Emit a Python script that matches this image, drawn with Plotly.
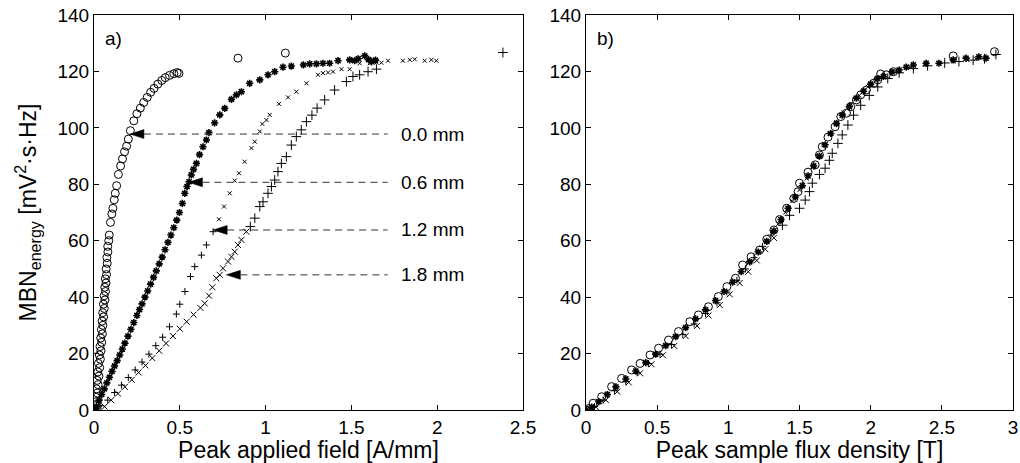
import plotly.graph_objects as go

# ---- panel a) : MBN energy vs peak applied field ----
h_00 = [0.000, 0.006, 0.016, 0.012, 0.020, 0.014, 0.024, 0.018, 0.029, 0.022, 0.033, 0.026,
        0.037, 0.031, 0.041, 0.035, 0.045, 0.039, 0.049, 0.043, 0.052, 0.047, 0.056, 0.051,
        0.060, 0.055, 0.064, 0.059, 0.067, 0.063, 0.070, 0.066, 0.073, 0.071, 0.077, 0.075,
        0.081, 0.080, 0.086, 0.089, 0.096, 0.104, 0.110, 0.118, 0.124, 0.132, 0.142, 0.155,
        0.166, 0.178, 0.190, 0.200, 0.212, 0.232, 0.250, 0.270, 0.290, 0.310, 0.330, 0.350,
        0.372, 0.395, 0.415, 0.440, 0.465, 0.485, 0.495, 0.839, 1.115]
m_00 = [0.0, 1.5, 3.0, 4.5, 6.0, 7.5, 9.0, 10.5, 12.0, 13.5, 15.0, 16.5,
        18.0, 19.5, 21.0, 22.5, 24.0, 25.5, 27.0, 28.5, 30.0, 31.5, 33.0, 34.5,
        36.0, 37.5, 39.0, 40.5, 42.0, 43.5, 45.0, 46.5, 48.0, 50.0, 52.0, 54.0,
        56.0, 58.0, 60.0, 62.0, 66.5, 69.5, 71.5, 74.5, 76.8, 79.5, 83.5, 86.5,
        89.0, 91.5, 93.5, 96.0, 99.0, 102.5, 105.0, 107.0, 109.0, 110.8, 112.6, 114.0,
        115.5, 116.8, 117.8, 118.6, 119.2, 119.6, 119.3, 124.7, 126.5]

h_06 = [0.000, 0.014, 0.030, 0.045, 0.060, 0.075, 0.090, 0.105, 0.120, 0.135, 0.150, 0.165,
        0.180, 0.198, 0.215, 0.232, 0.250, 0.265, 0.280, 0.297, 0.313, 0.330, 0.347, 0.363,
        0.380, 0.397, 0.414, 0.431, 0.448, 0.465, 0.482, 0.498, 0.515, 0.529, 0.542, 0.554,
        0.567, 0.580, 0.597, 0.615, 0.635, 0.655, 0.670, 0.703, 0.733, 0.762, 0.801, 0.830,
        0.859, 0.907, 0.966, 1.014, 1.053, 1.101, 1.150, 1.220, 1.257, 1.296, 1.334, 1.373,
        1.422, 1.490, 1.519, 1.540, 1.578, 1.600, 1.617, 1.640]
m_06 = [0.0, 1.2, 3.5, 5.5, 7.5, 9.6, 11.6, 13.7, 15.6, 17.5, 19.5, 21.6,
        23.7, 26.2, 28.6, 31.0, 33.5, 35.6, 37.6, 40.0, 42.2, 44.6, 47.0, 49.3,
        51.8, 54.2, 56.8, 59.4, 62.0, 64.6, 67.3, 70.0, 73.2, 76.8, 79.2, 80.9,
        83.3, 85.3, 87.4, 90.5, 93.3, 95.7, 98.3, 101.8, 104.6, 106.9, 110.1, 111.7,
        112.8, 115.8, 117.0, 118.8, 119.9, 121.5, 121.9, 122.3, 122.7, 122.7, 122.9, 122.9,
        123.8, 124.1, 123.8, 124.5, 125.5, 124.2, 123.5, 124.0]

h_12 = [0.000, 0.040, 0.080, 0.120, 0.160, 0.200, 0.240, 0.280, 0.320, 0.360, 0.400, 0.440,
        0.480, 0.500, 0.530, 0.562, 0.587, 0.626, 0.655, 0.694, 0.728, 0.758, 0.791, 0.820,
        0.845, 0.878, 0.917, 0.937, 0.966, 0.981, 1.005, 1.024, 1.078, 1.131, 1.179, 1.238,
        1.305, 1.334, 1.364, 1.393, 1.442, 1.490, 1.548, 1.607, 1.646, 1.675, 1.713, 1.800,
        1.840, 1.869, 1.927, 1.966, 1.995]
m_12 = [0.0, 1.5, 3.5, 6.2, 8.8, 11.5, 14.2, 17.0, 19.8, 22.8, 25.8, 29.5,
        34.0, 37.5, 42.0, 47.3, 50.8, 54.9, 58.5, 63.2, 67.6, 72.1, 76.8, 81.3,
        83.9, 88.0, 92.8, 95.1, 98.7, 101.4, 102.8, 104.6, 108.5, 110.8, 112.8, 115.8,
        118.8, 119.4, 119.6, 119.9, 120.8, 120.8, 122.9, 122.9, 123.1, 123.1, 123.8, 123.8,
        124.1, 124.3, 123.8, 124.1, 123.8]

h_18 = [0.000, 0.030, 0.062, 0.100, 0.140, 0.180, 0.220, 0.260, 0.300, 0.340, 0.380, 0.420,
        0.460, 0.500, 0.540, 0.580, 0.620, 0.645, 0.670, 0.690, 0.713, 0.733, 0.752, 0.781,
        0.801, 0.820, 0.839, 0.859, 0.888, 0.911, 0.937, 0.966, 0.985, 1.014, 1.034, 1.053,
        1.072, 1.092, 1.121, 1.150, 1.179, 1.208, 1.238, 1.270, 1.300, 1.344, 1.402, 1.471,
        1.509, 1.548, 1.597, 1.646, 2.383]
m_18 = [0.0, 0.5, 1.2, 3.5, 5.8, 8.2, 10.7, 13.3, 15.8, 18.4, 21.0, 23.6,
        26.2, 28.8, 31.3, 33.8, 36.2, 37.8, 40.5, 43.5, 46.7, 47.9, 50.2, 52.6,
        54.3, 56.1, 58.5, 60.3, 63.2, 65.0, 68.0, 72.1, 73.8, 76.8, 79.2, 81.5,
        84.5, 87.4, 89.8, 93.9, 96.9, 99.3, 102.2, 104.5, 107.0, 109.9, 113.4, 116.4,
        118.2, 118.8, 119.9, 120.8, 126.7]

# ---- panel b) : MBN energy vs peak sample flux density ----
b_00 = [0.00, 0.02, 0.05, 0.11, 0.18, 0.25, 0.32, 0.38, 0.45, 0.51, 0.58, 0.65, 0.73, 0.79,
        0.86, 0.93, 0.99, 1.05, 1.10, 1.16, 1.22, 1.27, 1.32, 1.36, 1.41, 1.46, 1.49, 1.50,
        1.56, 1.61, 1.64, 1.66, 1.70, 1.75, 1.79, 1.83, 1.86, 1.90, 1.93, 1.97, 2.02, 2.05,
        2.07, 2.11, 2.16, 2.58, 2.87]
e_00 = [0.0, 0.5, 2.4, 4.7, 8.3, 11.2, 14.2, 16.5, 19.5, 21.9, 24.8, 27.8, 31.3, 33.7,
        36.6, 40.2, 43.7, 46.7, 51.4, 54.3, 56.7, 60.5, 63.8, 67.5, 71.5, 75.0, 77.4, 80.4,
        84.3, 86.9, 90.4, 93.3, 96.7, 100.4, 104.0, 105.2, 107.5, 109.9, 111.7, 113.4, 115.8, 117.0,
        119.1, 118.8, 119.9, 125.5, 127.0]

b_06 = [0.00, 0.04, 0.09, 0.15, 0.21, 0.28, 0.35, 0.42, 0.49, 0.56, 0.63, 0.70, 0.77, 0.84,
        0.91, 0.97, 1.03, 1.09, 1.15, 1.21, 1.27, 1.32, 1.37, 1.42, 1.47, 1.52, 1.56, 1.60,
        1.64, 1.68, 1.72, 1.76, 1.80, 1.85, 1.90, 1.95, 2.00, 2.05, 2.09, 2.15, 2.20, 2.25,
        2.30, 2.39, 2.48, 2.58, 2.67, 2.76, 2.81]
e_06 = [0.0, 1.0, 3.0, 5.5, 8.2, 11.0, 13.8, 16.8, 19.8, 22.8, 26.0, 29.2, 32.3, 35.5,
        38.8, 42.0, 45.3, 49.0, 52.5, 56.0, 59.8, 63.5, 67.5, 71.5, 75.5, 79.5, 83.0, 86.5,
        90.0, 94.0, 98.0, 101.5, 104.5, 107.5, 110.5, 113.0, 115.5, 117.5, 118.2, 119.8, 120.5, 121.5,
        122.3, 122.9, 122.9, 124.1, 124.7, 125.2, 124.7]

b_12 = [0.00, 0.06, 0.12, 0.20, 0.28, 0.36, 0.44, 0.52, 0.60, 0.68, 0.76, 0.84, 0.92, 0.99,
        1.06, 1.12, 1.18, 1.24, 1.30, 1.35, 1.40, 1.45, 1.50, 1.55, 1.59, 1.63, 1.67, 1.71,
        1.76, 1.81, 1.86, 1.92, 1.98, 2.04, 2.10, 2.18, 2.28, 2.38, 2.48, 2.58, 2.68, 2.74]
e_12 = [0.0, 1.2, 3.5, 6.8, 10.0, 13.3, 16.5, 19.8, 23.2, 26.8, 30.5, 34.2, 38.0, 41.8,
        46.0, 50.0, 54.0, 58.0, 62.0, 66.0, 70.0, 74.0, 78.0, 82.0, 86.0, 90.0, 94.0, 98.0,
        102.0, 105.5, 108.5, 111.5, 114.5, 116.8, 118.5, 120.0, 121.5, 122.3, 123.0, 123.5, 124.0, 124.5]

b_18 = [0.00, 0.07, 0.14, 0.22, 0.30, 0.38, 0.46, 0.54, 0.62, 0.70, 0.78, 0.86, 0.94, 1.01,
        1.08, 1.14, 1.20, 1.26, 1.32, 1.38, 1.43, 1.50, 1.54, 1.57, 1.59, 1.64, 1.68, 1.71,
        1.73, 1.77, 1.80, 1.84, 1.88, 1.93, 1.99, 2.05, 2.12, 2.20, 2.30, 2.40, 2.52, 2.62,
        2.72, 2.80, 2.88]
e_18 = [0.0, 1.0, 3.5, 6.5, 9.8, 13.0, 16.2, 19.4, 22.7, 26.2, 29.8, 33.5, 37.2, 41.0,
        45.0, 49.0, 53.0, 57.0, 61.0, 65.5, 69.0, 71.5, 74.4, 77.4, 80.4, 83.5, 85.7, 88.5,
        91.0, 94.5, 97.5, 101.0, 104.5, 108.0, 111.5, 114.5, 117.5, 119.5, 121.0, 122.0, 123.0, 123.5,
        124.0, 124.5, 126.0]

# depth labels with arrows in panel a)
depth_labels = ["0.0 mm", "0.6 mm", "1.2 mm", "1.8 mm"]
label_y = [97.8, 80.7, 63.8, 47.9]
arrow_tip_x = [0.209, 0.550, 0.694, 0.771]
line_end_x = 1.711
text_x = 1.78

FONT = "Liberation Sans, Arial, sans-serif"
FS = 19
INK = "black"
W, H = 1020, 463


def split_by_y(xs, ys, y_cut):
    lo = [(x, y) for x, y in zip(xs, ys) if y < y_cut]
    hi = [(x, y) for x, y in zip(xs, ys) if y >= y_cut]
    return ([p[0] for p in lo], [p[1] for p in lo]), ([p[0] for p in hi], [p[1] for p in hi])


def marks(x, y, symbol, size, width, xa, ya):
    return go.Scatter(
        x=x, y=y, mode="markers", xaxis=xa, yaxis=ya, showlegend=False,
        marker=dict(symbol=symbol, size=size, color=INK, line=dict(color=INK, width=width)),
    )


fig = go.Figure()

for xs, ys, xa, ya in [(h_00, m_00, "x", "y"), (b_00, e_00, "x2", "y2")]:
    fig.add_trace(marks(xs, ys, "circle-open", 8, 1, xa, ya))
for xs, ys, xa, ya in [(h_06, m_06, "x", "y"), (b_06, e_06, "x2", "y2")]:
    fig.add_trace(marks(xs, ys, "asterisk-open", 6, 1.6, xa, ya))
for xs, ys, xa, ya in [(h_12, m_12, "x", "y"), (b_12, e_12, "x2", "y2")]:
    lo, hi = split_by_y(xs, ys, 64)
    fig.add_trace(marks(lo[0], lo[1], "cross-thin-open", 5, 1, xa, ya))
    fig.add_trace(marks(hi[0], hi[1], "x-thin-open", 4, 1, xa, ya))
for xs, ys, xa, ya in [(h_18, m_18, "x", "y"), (b_18, e_18, "x2", "y2")]:
    lo, hi = split_by_y(xs, ys, 64)
    fig.add_trace(marks(lo[0], lo[1], "x-thin-open", 6, 1, xa, ya))
    fig.add_trace(marks(hi[0], hi[1], "cross-thin-open", 7, 1, xa, ya))

# arrows: filled head + dashed shaft, label text to the right
head_len = 0.082
head_half = 1.6
for label, y, tx in zip(depth_labels, label_y, arrow_tip_x):
    fig.add_shape(
        type="path", xref="x", yref="y",
        path=f"M{tx},{y} L{tx + head_len},{y + head_half} L{tx + head_len},{y - head_half} Z",
        fillcolor=INK, line=dict(color=INK, width=0.5),
    )
    fig.add_shape(
        type="line", xref="x", yref="y", x0=tx + head_len, x1=line_end_x, y0=y, y1=y,
        line=dict(color="#333333", width=1, dash="7px,5px"),
    )
    fig.add_annotation(
        x=text_x, y=y, xref="x", yref="y", text=label, showarrow=False,
        xanchor="left", yanchor="middle", font=dict(size=FS, color=INK, family=FONT),
    )

for name, xa, ya in [("a)", "x", "y"), ("b)", "x2", "y2")]:
    fig.add_annotation(
        x=0.02, y=0.94, xref=f"{xa} domain", yref=f"{ya} domain", text=name,
        showarrow=False, xanchor="left", yanchor="middle",
        font=dict(size=FS, color=INK, family=FONT),
    )

axis_style = dict(
    showline=True, linecolor=INK, linewidth=1, mirror="ticks", ticks="inside",
    ticklen=5, tickcolor=INK, showgrid=False, zeroline=False, automargin=False,
    ticklabeloverflow="allow", tickfont=dict(size=FS, color=INK, family=FONT),
)

fig.update_layout(
    width=W, height=H,
    margin=dict(l=0, r=0, t=15, b=53),
    paper_bgcolor="white", plot_bgcolor="white",
    font=dict(family=FONT, size=FS, color=INK),
    xaxis=dict(domain=[94 / W, 523 / W], range=[0, 2.5], dtick=0.5,
               title=dict(text="Peak applied field [A/mm]", standoff=0), **axis_style),
    yaxis=dict(domain=[0, 1], range=[0, 140], dtick=20,
               title=dict(text="MBN<sub>energy</sub> [mV<sup>2</sup>·s·Hz]", standoff=14), **axis_style),
    xaxis2=dict(domain=[586 / W, 1013 / W], range=[0, 3], dtick=0.5, anchor="y2",
                title=dict(text="Peak sample flux density [T]", standoff=0), **axis_style),
    yaxis2=dict(domain=[0, 1], range=[0, 140], dtick=20, anchor="x2", **axis_style),
)

# drop the browser's default 8 px body margin so the figure sits at the page corner
fig.write_html(
    "out.html",
    config={"displayModeBar": False},
    post_script="document.body.style.margin = '0px';",
)
